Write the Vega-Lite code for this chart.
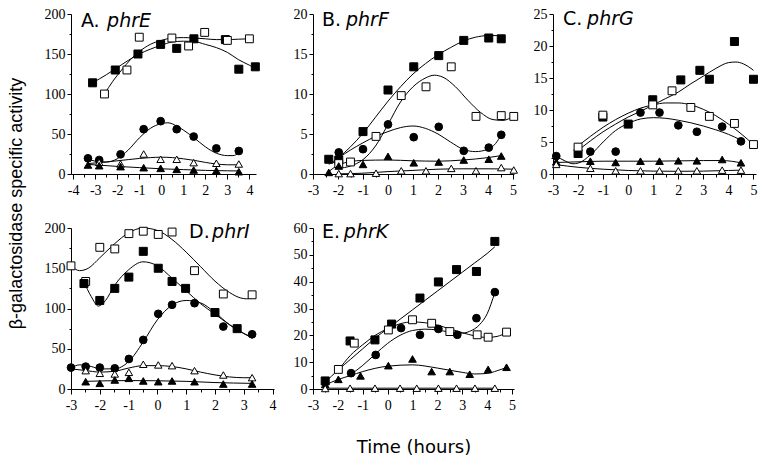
{
"$schema": "https://vega.github.io/schema/vega-lite/v6.json",
"padding": {"left": 6, "top": 7, "right": 2, "bottom": 2},
"config": {
 "view": {"stroke": null},
 "style": {"guide-label": {"font": "Liberation Serif", "fontSize": 14, "fill": "black"}},
 "axis": {"domainColor": "black", "tickColor": "black", "labelColor": "black", "labelFont": "Liberation Serif", "labelFontSize": 14, "labelPadding": 2, "grid": false, "labelFlush": false, "labelOverlap": false, "domainWidth": 1, "tickWidth": 1},
 "axisX": {"labelPadding": 4}
},
"datasets": {
 "pts": [
  {"p":"A","s":"sf","t":-3.12,"v":114},{"p":"A","s":"sf","t":-2.09,"v":130},{"p":"A","s":"sf","t":-1.06,"v":150},{"p":"A","s":"sf","t":-0.03,"v":162},{"p":"A","s":"sf","t":0.7,"v":157},{"p":"A","s":"sf","t":1.48,"v":169},{"p":"A","s":"sf","t":2.91,"v":168},{"p":"A","s":"sf","t":3.52,"v":131},{"p":"A","s":"sf","t":4.27,"v":134},
  {"p":"A","s":"so","t":-2.58,"v":100},{"p":"A","s":"so","t":-1.56,"v":130},{"p":"A","s":"so","t":-1.0,"v":171},{"p":"A","s":"so","t":0.48,"v":170},{"p":"A","s":"so","t":1.24,"v":160},{"p":"A","s":"so","t":1.97,"v":177},{"p":"A","s":"so","t":3.0,"v":167},{"p":"A","s":"so","t":4.0,"v":169},
  {"p":"A","s":"cf","t":-3.33,"v":19.6},{"p":"A","s":"cf","t":-2.82,"v":17.5},{"p":"A","s":"cf","t":-1.85,"v":24.6},{"p":"A","s":"cf","t":-0.8,"v":56},{"p":"A","s":"cf","t":-0.03,"v":66},{"p":"A","s":"cf","t":0.7,"v":56},{"p":"A","s":"cf","t":1.47,"v":46.8},{"p":"A","s":"cf","t":2.5,"v":32},{"p":"A","s":"cf","t":3.52,"v":28.8},
  {"p":"A","s":"to","t":-2.82,"v":14.6},{"p":"A","s":"to","t":-1.85,"v":12.5},{"p":"A","s":"to","t":-0.8,"v":25},{"p":"A","s":"to","t":-0.03,"v":18.4},{"p":"A","s":"to","t":0.7,"v":18.4},{"p":"A","s":"to","t":1.47,"v":14.2},{"p":"A","s":"to","t":2.5,"v":13.4},{"p":"A","s":"to","t":3.52,"v":12.5},
  {"p":"A","s":"tf","t":-3.33,"v":11.3},{"p":"A","s":"tf","t":-2.82,"v":10.4},{"p":"A","s":"tf","t":-1.85,"v":9.2},{"p":"A","s":"tf","t":-0.8,"v":7.9},{"p":"A","s":"tf","t":-0.03,"v":7.1},{"p":"A","s":"tf","t":0.7,"v":5.8},{"p":"A","s":"tf","t":1.47,"v":5},{"p":"A","s":"tf","t":2.5,"v":4.2},{"p":"A","s":"tf","t":3.52,"v":2.9},

  {"p":"B","s":"sf","t":-2.37,"v":1.84},{"p":"B","s":"sf","t":-1.97,"v":1.75},{"p":"B","s":"sf","t":-1.0,"v":5.3},{"p":"B","s":"sf","t":0,"v":10.5},{"p":"B","s":"sf","t":1.03,"v":13.4},{"p":"B","s":"sf","t":2.03,"v":14.8},{"p":"B","s":"sf","t":3.03,"v":16.7},{"p":"B","s":"sf","t":4.03,"v":17.0},{"p":"B","s":"sf","t":4.53,"v":16.9},
  {"p":"B","s":"so","t":-1.97,"v":1.3},{"p":"B","s":"so","t":-1.5,"v":1.5},{"p":"B","s":"so","t":-0.48,"v":4.7},{"p":"B","s":"so","t":0.53,"v":9.8},{"p":"B","s":"so","t":1.52,"v":10.9},{"p":"B","s":"so","t":2.53,"v":13.4},{"p":"B","s":"so","t":3.52,"v":7.2},{"p":"B","s":"so","t":4.53,"v":7.3},{"p":"B","s":"so","t":5.03,"v":7.2},
  {"p":"B","s":"cf","t":-1.97,"v":2.7},{"p":"B","s":"cf","t":-1.0,"v":3.1},{"p":"B","s":"cf","t":0,"v":6.2},{"p":"B","s":"cf","t":1.03,"v":4.6},{"p":"B","s":"cf","t":2.03,"v":5.9},{"p":"B","s":"cf","t":3.03,"v":2.9},{"p":"B","s":"cf","t":4.03,"v":3.3},{"p":"B","s":"cf","t":4.53,"v":4.9},
  {"p":"B","s":"tf","t":-2.37,"v":0.2},{"p":"B","s":"tf","t":-1.97,"v":1.0},{"p":"B","s":"tf","t":-1.0,"v":1.2},{"p":"B","s":"tf","t":0,"v":2.2},{"p":"B","s":"tf","t":1.03,"v":1.4},{"p":"B","s":"tf","t":2.03,"v":1.5},{"p":"B","s":"tf","t":3.03,"v":1.75},{"p":"B","s":"tf","t":4.03,"v":1.85},{"p":"B","s":"tf","t":4.53,"v":2.25},
  {"p":"B","s":"to","t":-1.97,"v":0.05},{"p":"B","s":"to","t":-1.5,"v":0.05},{"p":"B","s":"to","t":-0.48,"v":0.1},{"p":"B","s":"to","t":0.53,"v":0.4},{"p":"B","s":"to","t":1.52,"v":0.4},{"p":"B","s":"to","t":2.53,"v":0.7},{"p":"B","s":"to","t":3.52,"v":0.4},{"p":"B","s":"to","t":4.53,"v":0.8},{"p":"B","s":"to","t":5.03,"v":0.5},

  {"p":"C","s":"sf","t":-2.0,"v":3.2},{"p":"C","s":"sf","t":-1.01,"v":8.9},{"p":"C","s":"sf","t":0,"v":7.8},{"p":"C","s":"sf","t":0.98,"v":11.6},{"p":"C","s":"sf","t":2.1,"v":14.7},{"p":"C","s":"sf","t":2.86,"v":16.2},{"p":"C","s":"sf","t":3.24,"v":14.8},{"p":"C","s":"sf","t":4.24,"v":20.7},{"p":"C","s":"sf","t":5.0,"v":14.8},
  {"p":"C","s":"so","t":-2.0,"v":4.2},{"p":"C","s":"so","t":-1.01,"v":9.2},{"p":"C","s":"so","t":0.98,"v":10.8},{"p":"C","s":"so","t":1.75,"v":13.0},{"p":"C","s":"so","t":2.5,"v":10.4},{"p":"C","s":"so","t":3.24,"v":9.0},{"p":"C","s":"so","t":4.24,"v":7.9},{"p":"C","s":"so","t":5.0,"v":4.6},
  {"p":"C","s":"cf","t":-2.87,"v":2.8},{"p":"C","s":"cf","t":-1.51,"v":3.5},{"p":"C","s":"cf","t":-0.5,"v":3.5},{"p":"C","s":"cf","t":0.49,"v":9.6},{"p":"C","s":"cf","t":1.25,"v":9.6},{"p":"C","s":"cf","t":2.0,"v":7.6},{"p":"C","s":"cf","t":2.74,"v":6.6},{"p":"C","s":"cf","t":3.75,"v":7.4},{"p":"C","s":"cf","t":4.5,"v":5.1},
  {"p":"C","s":"tf","t":-2.87,"v":1.9},{"p":"C","s":"tf","t":-1.51,"v":2.0},{"p":"C","s":"tf","t":-0.5,"v":1.8},{"p":"C","s":"tf","t":0.49,"v":2.0},{"p":"C","s":"tf","t":1.25,"v":2.0},{"p":"C","s":"tf","t":2.0,"v":2.06},{"p":"C","s":"tf","t":2.74,"v":2.06},{"p":"C","s":"tf","t":3.75,"v":2.27},{"p":"C","s":"tf","t":4.5,"v":1.75},
  {"p":"C","s":"to","t":-2.87,"v":1.5},{"p":"C","s":"to","t":-1.51,"v":0.9},{"p":"C","s":"to","t":-0.5,"v":0.5},{"p":"C","s":"to","t":0.49,"v":0.5},{"p":"C","s":"to","t":1.25,"v":0.5},{"p":"C","s":"to","t":2.0,"v":0.5},{"p":"C","s":"to","t":2.74,"v":0.5},{"p":"C","s":"to","t":3.75,"v":0.6},{"p":"C","s":"to","t":4.5,"v":0.6},

  {"p":"D","s":"so","t":-3.0,"v":153},{"p":"D","s":"so","t":-2.49,"v":133.6},{"p":"D","s":"so","t":-2.0,"v":176},{"p":"D","s":"so","t":-1.48,"v":174},{"p":"D","s":"so","t":-0.99,"v":193},{"p":"D","s":"so","t":-0.49,"v":196},{"p":"D","s":"so","t":0.03,"v":192},{"p":"D","s":"so","t":0.51,"v":195},{"p":"D","s":"so","t":1.29,"v":147},{"p":"D","s":"so","t":2.29,"v":118},{"p":"D","s":"so","t":3.29,"v":117},
  {"p":"D","s":"sf","t":-2.55,"v":131},{"p":"D","s":"sf","t":-2.0,"v":110},{"p":"D","s":"sf","t":-1.48,"v":125},{"p":"D","s":"sf","t":-0.99,"v":139},{"p":"D","s":"sf","t":-0.49,"v":171},{"p":"D","s":"sf","t":0.03,"v":150},{"p":"D","s":"sf","t":0.51,"v":133.6},{"p":"D","s":"sf","t":0.98,"v":125},{"p":"D","s":"sf","t":2.0,"v":95},{"p":"D","s":"sf","t":2.77,"v":75},
  {"p":"D","s":"cf","t":-3.0,"v":26.6},{"p":"D","s":"cf","t":-2.49,"v":27.8},{"p":"D","s":"cf","t":-2.0,"v":26.6},{"p":"D","s":"cf","t":-1.48,"v":25.7},{"p":"D","s":"cf","t":-0.99,"v":37.3},{"p":"D","s":"cf","t":-0.49,"v":61},{"p":"D","s":"cf","t":0.03,"v":93.4},{"p":"D","s":"cf","t":0.51,"v":104.6},{"p":"D","s":"cf","t":1.29,"v":106.6},{"p":"D","s":"cf","t":2.29,"v":77.6},{"p":"D","s":"cf","t":3.29,"v":68},
  {"p":"D","s":"to","t":-2.49,"v":22.8},{"p":"D","s":"to","t":-2.0,"v":19.5},{"p":"D","s":"to","t":-1.48,"v":18.7},{"p":"D","s":"to","t":-0.99,"v":20.7},{"p":"D","s":"to","t":-0.49,"v":30.7},{"p":"D","s":"to","t":0.03,"v":29.9},{"p":"D","s":"to","t":0.51,"v":29},{"p":"D","s":"to","t":1.29,"v":22.8},{"p":"D","s":"to","t":2.29,"v":17.4},{"p":"D","s":"to","t":3.29,"v":14.1},
  {"p":"D","s":"tf","t":-2.49,"v":9.1},{"p":"D","s":"tf","t":-2.0,"v":7.1},{"p":"D","s":"tf","t":-1.48,"v":11.2},{"p":"D","s":"tf","t":-0.99,"v":13.3},{"p":"D","s":"tf","t":-0.49,"v":10},{"p":"D","s":"tf","t":0.03,"v":9.1},{"p":"D","s":"tf","t":0.51,"v":10},{"p":"D","s":"tf","t":1.29,"v":9.1},{"p":"D","s":"tf","t":2.29,"v":6.2},{"p":"D","s":"tf","t":3.29,"v":6.2},

  {"p":"E","s":"sf","t":-2.51,"v":3.0},{"p":"E","s":"sf","t":-1.51,"v":17.9},{"p":"E","s":"sf","t":-0.51,"v":18.3},{"p":"E","s":"sf","t":0.16,"v":24.2},{"p":"E","s":"sf","t":1.3,"v":33.9},{"p":"E","s":"sf","t":2.04,"v":39.9},{"p":"E","s":"sf","t":2.77,"v":44.5},{"p":"E","s":"sf","t":3.57,"v":43.8},{"p":"E","s":"sf","t":4.31,"v":55},
  {"p":"E","s":"so","t":-1.98,"v":7.3},{"p":"E","s":"so","t":-1.34,"v":17.1},{"p":"E","s":"so","t":0.03,"v":22},{"p":"E","s":"so","t":1.0,"v":25.8},{"p":"E","s":"so","t":1.77,"v":24.5},{"p":"E","s":"so","t":2.5,"v":21.4},{"p":"E","s":"so","t":3.6,"v":20.2},{"p":"E","s":"so","t":4.04,"v":19.3},{"p":"E","s":"so","t":4.78,"v":21.2},
  {"p":"E","s":"cf","t":-1.47,"v":5.9},{"p":"E","s":"cf","t":-0.48,"v":12.7},{"p":"E","s":"cf","t":0.54,"v":22.7},{"p":"E","s":"cf","t":1.3,"v":20.2},{"p":"E","s":"cf","t":2.04,"v":22.4},{"p":"E","s":"cf","t":2.8,"v":20.2},{"p":"E","s":"cf","t":3.57,"v":26.4},{"p":"E","s":"cf","t":4.31,"v":36.1},
  {"p":"E","s":"tf","t":-2.51,"v":1.7},{"p":"E","s":"tf","t":-1.98,"v":3.6},{"p":"E","s":"tf","t":-1.09,"v":4.9},{"p":"E","s":"tf","t":0.03,"v":8.7},{"p":"E","s":"tf","t":1.0,"v":11.2},{"p":"E","s":"tf","t":1.77,"v":6.5},{"p":"E","s":"tf","t":2.5,"v":6.5},{"p":"E","s":"tf","t":3.3,"v":5.5},{"p":"E","s":"tf","t":4.04,"v":7.3},{"p":"E","s":"tf","t":4.78,"v":8.1},
  {"p":"E","s":"to","t":-2.51,"v":0.2},{"p":"E","s":"to","t":-1.51,"v":0.3},{"p":"E","s":"to","t":-0.51,"v":0.3},{"p":"E","s":"to","t":0.5,"v":0.3},{"p":"E","s":"to","t":1.17,"v":0.3},{"p":"E","s":"to","t":2.04,"v":0.3},{"p":"E","s":"to","t":2.77,"v":0.3},{"p":"E","s":"to","t":3.51,"v":0.3},{"p":"E","s":"to","t":4.31,"v":0.3}
 ],
 "fit": [
  {"p":"A","s":"sf","t":-3.12,"v":114},{"p":"A","s":"sf","t":-2.5,"v":124},{"p":"A","s":"sf","t":-2,"v":133},{"p":"A","s":"sf","t":-1.5,"v":142},{"p":"A","s":"sf","t":-1,"v":150},{"p":"A","s":"sf","t":-0.5,"v":156},{"p":"A","s":"sf","t":0,"v":161},{"p":"A","s":"sf","t":0.5,"v":165},{"p":"A","s":"sf","t":1,"v":166},{"p":"A","s":"sf","t":1.5,"v":165.5},{"p":"A","s":"sf","t":2,"v":162},{"p":"A","s":"sf","t":2.5,"v":158},{"p":"A","s":"sf","t":3,"v":152},{"p":"A","s":"sf","t":3.5,"v":143},{"p":"A","s":"sf","t":4,"v":136},{"p":"A","s":"sf","t":4.27,"v":132},
  {"p":"A","s":"so","t":-2.58,"v":100},{"p":"A","s":"so","t":-2.2,"v":116},{"p":"A","s":"so","t":-1.8,"v":130},{"p":"A","s":"so","t":-1.4,"v":143},{"p":"A","s":"so","t":-1,"v":153},{"p":"A","s":"so","t":-0.5,"v":162},{"p":"A","s":"so","t":0,"v":167},{"p":"A","s":"so","t":0.5,"v":170},{"p":"A","s":"so","t":1,"v":170.5},{"p":"A","s":"so","t":1.5,"v":170},{"p":"A","s":"so","t":2,"v":169},{"p":"A","s":"so","t":2.5,"v":168},{"p":"A","s":"so","t":3,"v":168},{"p":"A","s":"so","t":3.5,"v":168.5},{"p":"A","s":"so","t":4,"v":169},
  {"p":"A","s":"cf","t":-3.33,"v":19},{"p":"A","s":"cf","t":-3,"v":16},{"p":"A","s":"cf","t":-2.5,"v":15},{"p":"A","s":"cf","t":-2,"v":19},{"p":"A","s":"cf","t":-1.5,"v":30},{"p":"A","s":"cf","t":-1,"v":45},{"p":"A","s":"cf","t":-0.5,"v":57},{"p":"A","s":"cf","t":0,"v":63},{"p":"A","s":"cf","t":0.3,"v":64},{"p":"A","s":"cf","t":0.7,"v":60},{"p":"A","s":"cf","t":1,"v":55},{"p":"A","s":"cf","t":1.5,"v":45},{"p":"A","s":"cf","t":2,"v":34},{"p":"A","s":"cf","t":2.5,"v":26},{"p":"A","s":"cf","t":3,"v":23},{"p":"A","s":"cf","t":3.25,"v":23},{"p":"A","s":"cf","t":3.52,"v":26},
  {"p":"A","s":"to","t":-3.33,"v":13},{"p":"A","s":"to","t":-2.5,"v":15},{"p":"A","s":"to","t":-1.5,"v":18},{"p":"A","s":"to","t":-0.5,"v":20.5},{"p":"A","s":"to","t":0,"v":21},{"p":"A","s":"to","t":0.5,"v":20.5},{"p":"A","s":"to","t":1,"v":19},{"p":"A","s":"to","t":1.5,"v":17},{"p":"A","s":"to","t":2,"v":14.5},{"p":"A","s":"to","t":2.5,"v":12.5},{"p":"A","s":"to","t":3,"v":11.5},{"p":"A","s":"to","t":3.52,"v":11.5},
  {"p":"A","s":"tf","t":-3.33,"v":12},{"p":"A","s":"tf","t":-2,"v":9.5},{"p":"A","s":"tf","t":-1,"v":8},{"p":"A","s":"tf","t":0,"v":6.5},{"p":"A","s":"tf","t":1,"v":5.5},{"p":"A","s":"tf","t":2,"v":4.5},{"p":"A","s":"tf","t":3,"v":4},{"p":"A","s":"tf","t":3.52,"v":3.8},

  {"p":"B","s":"sf","t":-2.37,"v":1.2},{"p":"B","s":"sf","t":-2,"v":2.0},{"p":"B","s":"sf","t":-1.5,"v":3.4},{"p":"B","s":"sf","t":-1,"v":5.1},{"p":"B","s":"sf","t":-0.5,"v":7.1},{"p":"B","s":"sf","t":0,"v":9.1},{"p":"B","s":"sf","t":0.5,"v":10.9},{"p":"B","s":"sf","t":1,"v":12.5},{"p":"B","s":"sf","t":1.5,"v":13.8},{"p":"B","s":"sf","t":2,"v":14.9},{"p":"B","s":"sf","t":2.5,"v":15.8},{"p":"B","s":"sf","t":3,"v":16.6},{"p":"B","s":"sf","t":3.5,"v":17.1},{"p":"B","s":"sf","t":4,"v":17.3},{"p":"B","s":"sf","t":4.53,"v":17.3},
  {"p":"B","s":"so","t":-1.97,"v":0.7},{"p":"B","s":"so","t":-1.5,"v":1.0},{"p":"B","s":"so","t":-1,"v":1.8},{"p":"B","s":"so","t":-0.5,"v":3.5},{"p":"B","s":"so","t":0,"v":6.2},{"p":"B","s":"so","t":0.5,"v":9.0},{"p":"B","s":"so","t":1,"v":10.9},{"p":"B","s":"so","t":1.5,"v":12.0},{"p":"B","s":"so","t":1.85,"v":12.35},{"p":"B","s":"so","t":2.2,"v":12.1},{"p":"B","s":"so","t":2.7,"v":10.9},{"p":"B","s":"so","t":3.2,"v":9.2},{"p":"B","s":"so","t":3.7,"v":7.7},{"p":"B","s":"so","t":4.2,"v":6.8},{"p":"B","s":"so","t":4.6,"v":6.7},{"p":"B","s":"so","t":5.03,"v":7.3},
  {"p":"B","s":"cf","t":-2.2,"v":1.4},{"p":"B","s":"cf","t":-1.97,"v":2.0},{"p":"B","s":"cf","t":-1.5,"v":3.0},{"p":"B","s":"cf","t":-1,"v":3.9},{"p":"B","s":"cf","t":-0.5,"v":4.7},{"p":"B","s":"cf","t":0,"v":5.3},{"p":"B","s":"cf","t":0.5,"v":5.8},{"p":"B","s":"cf","t":1,"v":6.0},{"p":"B","s":"cf","t":1.5,"v":5.7},{"p":"B","s":"cf","t":2,"v":5.0},{"p":"B","s":"cf","t":2.5,"v":4.0},{"p":"B","s":"cf","t":3,"v":3.1},{"p":"B","s":"cf","t":3.5,"v":2.8},{"p":"B","s":"cf","t":4,"v":3.1},{"p":"B","s":"cf","t":4.3,"v":3.8},{"p":"B","s":"cf","t":4.53,"v":4.9},
  {"p":"B","s":"tf","t":-2.37,"v":0.3},{"p":"B","s":"tf","t":-2,"v":1.1},{"p":"B","s":"tf","t":-1.5,"v":1.55},{"p":"B","s":"tf","t":-1,"v":1.7},{"p":"B","s":"tf","t":0,"v":1.75},{"p":"B","s":"tf","t":1,"v":1.65},{"p":"B","s":"tf","t":2,"v":1.6},{"p":"B","s":"tf","t":3,"v":1.75},{"p":"B","s":"tf","t":4,"v":2.05},{"p":"B","s":"tf","t":4.53,"v":2.3},
  {"p":"B","s":"to","t":-1.97,"v":0.02},{"p":"B","s":"to","t":-1,"v":0.1},{"p":"B","s":"to","t":0,"v":0.3},{"p":"B","s":"to","t":1,"v":0.45},{"p":"B","s":"to","t":2,"v":0.6},{"p":"B","s":"to","t":3,"v":0.65},{"p":"B","s":"to","t":4,"v":0.65},{"p":"B","s":"to","t":5.03,"v":0.6},

  {"p":"C","s":"sf","t":-2,"v":3.7},{"p":"C","s":"sf","t":-1.5,"v":5.2},{"p":"C","s":"sf","t":-1,"v":6.6},{"p":"C","s":"sf","t":-0.5,"v":7.8},{"p":"C","s":"sf","t":0,"v":8.9},{"p":"C","s":"sf","t":0.5,"v":9.8},{"p":"C","s":"sf","t":1,"v":10.8},{"p":"C","s":"sf","t":1.5,"v":11.8},{"p":"C","s":"sf","t":2,"v":12.8},{"p":"C","s":"sf","t":2.5,"v":14.1},{"p":"C","s":"sf","t":3,"v":15.3},{"p":"C","s":"sf","t":3.5,"v":16.5},{"p":"C","s":"sf","t":4,"v":17.4},{"p":"C","s":"sf","t":4.3,"v":17.5},{"p":"C","s":"sf","t":4.6,"v":17.2},{"p":"C","s":"sf","t":5,"v":16.2},
  {"p":"C","s":"so","t":-2,"v":4.4},{"p":"C","s":"so","t":-1.5,"v":5.9},{"p":"C","s":"so","t":-1,"v":7.3},{"p":"C","s":"so","t":-0.5,"v":8.5},{"p":"C","s":"so","t":0,"v":9.5},{"p":"C","s":"so","t":0.5,"v":10.3},{"p":"C","s":"so","t":1,"v":10.8},{"p":"C","s":"so","t":1.5,"v":11.1},{"p":"C","s":"so","t":2,"v":11.1},{"p":"C","s":"so","t":2.5,"v":10.8},{"p":"C","s":"so","t":3,"v":10.1},{"p":"C","s":"so","t":3.5,"v":9.1},{"p":"C","s":"so","t":4,"v":7.8},{"p":"C","s":"so","t":4.5,"v":6.3},{"p":"C","s":"so","t":5,"v":4.6},
  {"p":"C","s":"cf","t":-2.87,"v":2.8},{"p":"C","s":"cf","t":-2.5,"v":2.0},{"p":"C","s":"cf","t":-2.2,"v":1.6},{"p":"C","s":"cf","t":-2,"v":1.7},{"p":"C","s":"cf","t":-1.5,"v":3.0},{"p":"C","s":"cf","t":-1,"v":5.0},{"p":"C","s":"cf","t":-0.5,"v":6.8},{"p":"C","s":"cf","t":0,"v":7.9},{"p":"C","s":"cf","t":0.5,"v":8.6},{"p":"C","s":"cf","t":1,"v":8.8},{"p":"C","s":"cf","t":1.5,"v":8.7},{"p":"C","s":"cf","t":2,"v":8.4},{"p":"C","s":"cf","t":2.5,"v":8.0},{"p":"C","s":"cf","t":3,"v":7.5},{"p":"C","s":"cf","t":3.5,"v":6.9},{"p":"C","s":"cf","t":4,"v":6.2},{"p":"C","s":"cf","t":4.5,"v":5.3},
  {"p":"C","s":"tf","t":-2.87,"v":1.8},{"p":"C","s":"tf","t":-2,"v":1.9},{"p":"C","s":"tf","t":-1,"v":2.0},{"p":"C","s":"tf","t":0,"v":2.0},{"p":"C","s":"tf","t":1,"v":2.0},{"p":"C","s":"tf","t":2,"v":2.05},{"p":"C","s":"tf","t":3,"v":2.1},{"p":"C","s":"tf","t":3.75,"v":2.1},{"p":"C","s":"tf","t":4.5,"v":1.75},
  {"p":"C","s":"to","t":-2.87,"v":1.45},{"p":"C","s":"to","t":-2,"v":1.05},{"p":"C","s":"to","t":-1,"v":0.75},{"p":"C","s":"to","t":0,"v":0.55},{"p":"C","s":"to","t":1,"v":0.45},{"p":"C","s":"to","t":2,"v":0.42},{"p":"C","s":"to","t":3,"v":0.45},{"p":"C","s":"to","t":4,"v":0.55},{"p":"C","s":"to","t":4.5,"v":0.6},

  {"p":"D","s":"so","t":-3,"v":153},{"p":"D","s":"so","t":-2.7,"v":147},{"p":"D","s":"so","t":-2.4,"v":150},{"p":"D","s":"so","t":-2,"v":163},{"p":"D","s":"so","t":-1.5,"v":180},{"p":"D","s":"so","t":-1,"v":194},{"p":"D","s":"so","t":-0.5,"v":200},{"p":"D","s":"so","t":0,"v":197},{"p":"D","s":"so","t":0.5,"v":186},{"p":"D","s":"so","t":1,"v":170},{"p":"D","s":"so","t":1.5,"v":152},{"p":"D","s":"so","t":2,"v":134},{"p":"D","s":"so","t":2.5,"v":120},{"p":"D","s":"so","t":2.9,"v":113},{"p":"D","s":"so","t":3.1,"v":112},{"p":"D","s":"so","t":3.3,"v":114},
  {"p":"D","s":"sf","t":-2.55,"v":133},{"p":"D","s":"sf","t":-2.3,"v":115},{"p":"D","s":"sf","t":-2.05,"v":103},{"p":"D","s":"sf","t":-1.8,"v":110},{"p":"D","s":"sf","t":-1.5,"v":128},{"p":"D","s":"sf","t":-1,"v":148},{"p":"D","s":"sf","t":-0.5,"v":158},{"p":"D","s":"sf","t":0,"v":153},{"p":"D","s":"sf","t":0.5,"v":138},{"p":"D","s":"sf","t":1,"v":122},{"p":"D","s":"sf","t":1.5,"v":106},{"p":"D","s":"sf","t":2,"v":93},{"p":"D","s":"sf","t":2.5,"v":80},{"p":"D","s":"sf","t":3,"v":69},{"p":"D","s":"sf","t":3.3,"v":64},
  {"p":"D","s":"cf","t":-3,"v":26},{"p":"D","s":"cf","t":-2.7,"v":30},{"p":"D","s":"cf","t":-2.3,"v":28},{"p":"D","s":"cf","t":-2,"v":25},{"p":"D","s":"cf","t":-1.5,"v":25},{"p":"D","s":"cf","t":-1,"v":34},{"p":"D","s":"cf","t":-0.5,"v":58},{"p":"D","s":"cf","t":0,"v":86},{"p":"D","s":"cf","t":0.5,"v":104},{"p":"D","s":"cf","t":1,"v":110},{"p":"D","s":"cf","t":1.5,"v":107},{"p":"D","s":"cf","t":2,"v":95},{"p":"D","s":"cf","t":2.5,"v":80},{"p":"D","s":"cf","t":3,"v":69},{"p":"D","s":"cf","t":3.3,"v":63},
  {"p":"D","s":"to","t":-3,"v":25},{"p":"D","s":"to","t":-2.5,"v":23},{"p":"D","s":"to","t":-2,"v":21},{"p":"D","s":"to","t":-1.5,"v":22},{"p":"D","s":"to","t":-1,"v":26},{"p":"D","s":"to","t":-0.5,"v":29},{"p":"D","s":"to","t":0,"v":29},{"p":"D","s":"to","t":0.5,"v":28},{"p":"D","s":"to","t":1,"v":25},{"p":"D","s":"to","t":1.5,"v":21},{"p":"D","s":"to","t":2,"v":17.5},{"p":"D","s":"to","t":2.5,"v":15},{"p":"D","s":"to","t":3,"v":14},{"p":"D","s":"to","t":3.3,"v":14},
  {"p":"D","s":"tf","t":-2.49,"v":9.5},{"p":"D","s":"tf","t":-1,"v":10.5},{"p":"D","s":"tf","t":0,"v":10.2},{"p":"D","s":"tf","t":1,"v":9.5},{"p":"D","s":"tf","t":2,"v":8},{"p":"D","s":"tf","t":3.29,"v":7},

  {"p":"E","s":"sf","t":-2.51,"v":2.5},{"p":"E","s":"sf","t":-2,"v":7},{"p":"E","s":"sf","t":-1.5,"v":11},{"p":"E","s":"sf","t":-1,"v":15},{"p":"E","s":"sf","t":-0.5,"v":19},{"p":"E","s":"sf","t":0,"v":22.5},{"p":"E","s":"sf","t":0.5,"v":26},{"p":"E","s":"sf","t":1,"v":29.5},{"p":"E","s":"sf","t":1.5,"v":33},{"p":"E","s":"sf","t":2,"v":36.5},{"p":"E","s":"sf","t":2.5,"v":40},{"p":"E","s":"sf","t":3,"v":43.5},{"p":"E","s":"sf","t":3.5,"v":47},{"p":"E","s":"sf","t":4,"v":50.5},{"p":"E","s":"sf","t":4.31,"v":53},
  {"p":"E","s":"so","t":-1.98,"v":7},{"p":"E","s":"so","t":-1.5,"v":12.5},{"p":"E","s":"so","t":-1,"v":16.5},{"p":"E","s":"so","t":-0.5,"v":20},{"p":"E","s":"so","t":0,"v":22.5},{"p":"E","s":"so","t":0.5,"v":24.3},{"p":"E","s":"so","t":1,"v":25},{"p":"E","s":"so","t":1.5,"v":24.7},{"p":"E","s":"so","t":2,"v":23.8},{"p":"E","s":"so","t":2.5,"v":22.4},{"p":"E","s":"so","t":3,"v":21},{"p":"E","s":"so","t":3.5,"v":19.8},{"p":"E","s":"so","t":4,"v":19.2},{"p":"E","s":"so","t":4.4,"v":19.6},{"p":"E","s":"so","t":4.78,"v":21},
  {"p":"E","s":"cf","t":-1.47,"v":5.5},{"p":"E","s":"cf","t":-1,"v":8.8},{"p":"E","s":"cf","t":-0.5,"v":13},{"p":"E","s":"cf","t":0,"v":17},{"p":"E","s":"cf","t":0.5,"v":20},{"p":"E","s":"cf","t":1,"v":21.8},{"p":"E","s":"cf","t":1.5,"v":22.3},{"p":"E","s":"cf","t":2,"v":22},{"p":"E","s":"cf","t":2.5,"v":21.2},{"p":"E","s":"cf","t":3,"v":20.8},{"p":"E","s":"cf","t":3.3,"v":21.5},{"p":"E","s":"cf","t":3.7,"v":24},{"p":"E","s":"cf","t":4,"v":28},{"p":"E","s":"cf","t":4.31,"v":36},
  {"p":"E","s":"tf","t":-2.51,"v":1.5},{"p":"E","s":"tf","t":-2,"v":3.5},{"p":"E","s":"tf","t":-1.5,"v":5},{"p":"E","s":"tf","t":-1,"v":6.5},{"p":"E","s":"tf","t":0,"v":8.5},{"p":"E","s":"tf","t":1,"v":9},{"p":"E","s":"tf","t":2,"v":7.8},{"p":"E","s":"tf","t":3,"v":6.2},{"p":"E","s":"tf","t":3.5,"v":5.6},{"p":"E","s":"tf","t":4,"v":5.8},{"p":"E","s":"tf","t":4.4,"v":6.8},{"p":"E","s":"tf","t":4.78,"v":8},
  {"p":"E","s":"to","t":-2.51,"v":0.3},{"p":"E","s":"to","t":4.31,"v":0.3}
 ],
 "lab": [
  {"p":"A","t":-3.65,"v":183.8,"txt":"A.","it":0},{"p":"A","t":-2.46,"v":183.8,"txt":"phrE","it":1},
  {"p":"B","t":-2.64,"v":18.5,"txt":"B.","it":0},{"p":"B","t":-1.68,"v":18.5,"txt":"phrF","it":1},
  {"p":"C","t":-2.6,"v":23.3,"txt":"C.","it":0},{"p":"C","t":-1.64,"v":23.3,"txt":"phrG","it":1},
  {"p":"D","t":1.1,"v":187.6,"txt":"D.","it":0},{"p":"D","t":1.9,"v":187.6,"txt":"phrI","it":1},
  {"p":"E","t":-2.64,"v":56.3,"txt":"E.","it":0},{"p":"E","t":-1.76,"v":56.3,"txt":"phrK","it":1}
 ]
},
"concat": [
 {
  "width": 185, "height": 160,
  "encoding": {
   "x": {"field": "t", "type": "quantitative", "scale": {"domain": [-4.1, 4.3], "nice": false, "zero": false}, "axis": {"title": null, "labelFont": "Liberation Serif", "labelFontSize": 14, "values": [-4,-3.5,-3,-2.5,-2,-1.5,-1,-0.5,0,0.5,1,1.5,2,2.5,3,3.5,4], "labelExpr": "datum.value % 1 === 0 ? '' + datum.value : ''", "tickSize": {"condition": {"test": "datum.value % 1 !== 0", "value": 3}, "value": 5}}},
   "y": {"field": "v", "type": "quantitative", "scale": {"domain": [0, 200], "nice": false}, "axis": {"title": null, "labelFont": "Liberation Serif", "labelFontSize": 14, "values": [0,25,50,75,100,125,150,175,200], "labelExpr": "datum.value % 50 === 0 ? '' + datum.value : ''", "tickSize": {"condition": {"test": "datum.value % 50 !== 0", "value": 2}, "value": 4}}}
  },
  "layer": [
   {"data": {"name": "fit"}, "transform": [{"filter": "datum.p == 'A'"}], "mark": {"type": "line", "color": "black", "strokeWidth": 1, "interpolate": "monotone"}, "encoding": {"detail": {"field": "s"}}},
   {"data": {"name": "pts"}, "transform": [{"filter": "datum.p == 'A'"}], "mark": {"type": "point", "filled": true, "stroke": "black", "strokeWidth": 1, "opacity": 1},
    "encoding": {
     "shape": {"field": "s", "type": "nominal", "scale": {"domain": ["sf","so","cf","tf","to"], "range": ["square","square","circle","triangle-up","triangle-up"]}, "legend": null},
     "fill": {"field": "s", "type": "nominal", "scale": {"domain": ["sf","so","cf","tf","to"], "range": ["black","white","black","black","white"]}, "legend": null},
     "size": {"field": "s", "type": "ordinal", "scale": {"domain": ["sf","so","cf","tf","to"], "range": [64,56,64,60,60]}, "legend": null}}},
   {"data": {"name": "lab"}, "transform": [{"filter": "datum.p == 'A' && datum.it == 0"}], "mark": {"type": "text", "align": "left", "baseline": "alphabetic", "font": "DejaVu Sans", "fontSize": 19, "color": "black"}, "encoding": {"text": {"field": "txt"}}},
   {"data": {"name": "lab"}, "transform": [{"filter": "datum.p == 'A' && datum.it == 1"}], "mark": {"type": "text", "align": "left", "baseline": "alphabetic", "font": "DejaVu Sans", "fontSize": 19, "fontStyle": "italic", "color": "black"}, "encoding": {"text": {"field": "txt"}}}
  ]
 },
 {
  "width": 201, "height": 160,
  "encoding": {
   "x": {"field": "t", "type": "quantitative", "scale": {"domain": [-3, 5.04], "nice": false, "zero": false}, "axis": {"title": null, "labelFont": "Liberation Serif", "labelFontSize": 14, "values": [-3,-2.5,-2,-1.5,-1,-0.5,0,0.5,1,1.5,2,2.5,3,3.5,4,4.5,5], "labelExpr": "datum.value % 1 === 0 ? '' + datum.value : ''", "tickSize": {"condition": {"test": "datum.value % 1 !== 0", "value": 3}, "value": 5}}},
   "y": {"field": "v", "type": "quantitative", "scale": {"domain": [0, 20], "nice": false}, "axis": {"title": null, "labelFont": "Liberation Serif", "labelFontSize": 14, "values": [0,2.5,5,7.5,10,12.5,15,17.5,20], "labelExpr": "datum.value % 5 === 0 ? '' + datum.value : ''", "tickSize": {"condition": {"test": "datum.value % 5 !== 0", "value": 2}, "value": 4}}}
  },
  "layer": [
   {"data": {"name": "fit"}, "transform": [{"filter": "datum.p == 'B'"}], "mark": {"type": "line", "color": "black", "strokeWidth": 1, "interpolate": "monotone"}, "encoding": {"detail": {"field": "s"}}},
   {"data": {"name": "pts"}, "transform": [{"filter": "datum.p == 'B'"}], "mark": {"type": "point", "filled": true, "stroke": "black", "strokeWidth": 1, "opacity": 1},
    "encoding": {
     "shape": {"field": "s", "type": "nominal", "scale": {"domain": ["sf","so","cf","tf","to"], "range": ["square","square","circle","triangle-up","triangle-up"]}, "legend": null},
     "fill": {"field": "s", "type": "nominal", "scale": {"domain": ["sf","so","cf","tf","to"], "range": ["black","white","black","black","white"]}, "legend": null},
     "size": {"field": "s", "type": "ordinal", "scale": {"domain": ["sf","so","cf","tf","to"], "range": [64,56,64,60,60]}, "legend": null}}},
   {"data": {"name": "lab"}, "transform": [{"filter": "datum.p == 'B' && datum.it == 0"}], "mark": {"type": "text", "align": "left", "baseline": "alphabetic", "font": "DejaVu Sans", "fontSize": 19, "color": "black"}, "encoding": {"text": {"field": "txt"}}},
   {"data": {"name": "lab"}, "transform": [{"filter": "datum.p == 'B' && datum.it == 1"}], "mark": {"type": "text", "align": "left", "baseline": "alphabetic", "font": "DejaVu Sans", "fontSize": 19, "fontStyle": "italic", "color": "black"}, "encoding": {"text": {"field": "txt"}}}
  ]
 },
 {
  "width": 203, "height": 160,
  "encoding": {
   "x": {"field": "t", "type": "quantitative", "scale": {"domain": [-3, 5.1], "nice": false, "zero": false}, "axis": {"title": null, "labelFont": "Liberation Serif", "labelFontSize": 14, "values": [-3,-2.5,-2,-1.5,-1,-0.5,0,0.5,1,1.5,2,2.5,3,3.5,4,4.5,5], "labelExpr": "datum.value % 1 === 0 ? '' + datum.value : ''", "tickSize": {"condition": {"test": "datum.value % 1 !== 0", "value": 3}, "value": 5}}},
   "y": {"field": "v", "type": "quantitative", "scale": {"domain": [0, 25], "nice": false}, "axis": {"title": null, "labelFont": "Liberation Serif", "labelFontSize": 14, "values": [0,2.5,5,7.5,10,12.5,15,17.5,20,22.5,25], "labelExpr": "datum.value % 5 === 0 ? '' + datum.value : ''", "tickSize": {"condition": {"test": "datum.value % 5 !== 0", "value": 2}, "value": 4}}}
  },
  "layer": [
   {"data": {"name": "fit"}, "transform": [{"filter": "datum.p == 'C'"}], "mark": {"type": "line", "color": "black", "strokeWidth": 1, "interpolate": "monotone"}, "encoding": {"detail": {"field": "s"}}},
   {"data": {"name": "pts"}, "transform": [{"filter": "datum.p == 'C'"}], "mark": {"type": "point", "filled": true, "stroke": "black", "strokeWidth": 1, "opacity": 1},
    "encoding": {
     "shape": {"field": "s", "type": "nominal", "scale": {"domain": ["sf","so","cf","tf","to"], "range": ["square","square","circle","triangle-up","triangle-up"]}, "legend": null},
     "fill": {"field": "s", "type": "nominal", "scale": {"domain": ["sf","so","cf","tf","to"], "range": ["black","white","black","black","white"]}, "legend": null},
     "size": {"field": "s", "type": "ordinal", "scale": {"domain": ["sf","so","cf","tf","to"], "range": [64,56,64,60,60]}, "legend": null}}},
   {"data": {"name": "lab"}, "transform": [{"filter": "datum.p == 'C' && datum.it == 0"}], "mark": {"type": "text", "align": "left", "baseline": "alphabetic", "font": "DejaVu Sans", "fontSize": 19, "color": "black"}, "encoding": {"text": {"field": "txt"}}},
   {"data": {"name": "lab"}, "transform": [{"filter": "datum.p == 'C' && datum.it == 1"}], "mark": {"type": "text", "align": "left", "baseline": "alphabetic", "font": "DejaVu Sans", "fontSize": 19, "fontStyle": "italic", "color": "black"}, "encoding": {"text": {"field": "txt"}}}
  ]
 },
 {
  "width": 203, "height": 161,
  "encoding": {
   "x": {"field": "t", "type": "quantitative", "scale": {"domain": [-3, 4.05], "nice": false, "zero": false}, "axis": {"title": null, "labelFont": "Liberation Serif", "labelFontSize": 14, "values": [-3,-2.5,-2,-1.5,-1,-0.5,0,0.5,1,1.5,2,2.5,3,3.5,4], "labelExpr": "datum.value % 1 === 0 ? '' + datum.value : ''", "tickSize": {"condition": {"test": "datum.value % 1 !== 0", "value": 3}, "value": 5}}},
   "y": {"field": "v", "type": "quantitative", "scale": {"domain": [0, 200], "nice": false}, "axis": {"title": "β-galactosidase specific activity", "titleFont": "Liberation Sans", "titleFontSize": 18, "titleFontWeight": "normal", "titleColor": "black", "titleX": -50, "titleY": -25, "titleAngle": -90, "titleAlign": "center", "titleBaseline": "alphabetic", "labelFont": "Liberation Serif", "labelFontSize": 14, "values": [0,25,50,75,100,125,150,175,200], "labelExpr": "datum.value % 50 === 0 ? '' + datum.value : ''", "tickSize": {"condition": {"test": "datum.value % 50 !== 0", "value": 2}, "value": 4}}}
  },
  "layer": [
   {"data": {"name": "fit"}, "transform": [{"filter": "datum.p == 'D'"}], "mark": {"type": "line", "color": "black", "strokeWidth": 1, "interpolate": "monotone"}, "encoding": {"detail": {"field": "s"}}},
   {"data": {"name": "pts"}, "transform": [{"filter": "datum.p == 'D'"}], "mark": {"type": "point", "filled": true, "stroke": "black", "strokeWidth": 1, "opacity": 1},
    "encoding": {
     "shape": {"field": "s", "type": "nominal", "scale": {"domain": ["sf","so","cf","tf","to"], "range": ["square","square","circle","triangle-up","triangle-up"]}, "legend": null},
     "fill": {"field": "s", "type": "nominal", "scale": {"domain": ["sf","so","cf","tf","to"], "range": ["black","white","black","black","white"]}, "legend": null},
     "size": {"field": "s", "type": "ordinal", "scale": {"domain": ["sf","so","cf","tf","to"], "range": [64,56,64,60,60]}, "legend": null}}},
   {"data": {"name": "lab"}, "transform": [{"filter": "datum.p == 'D' && datum.it == 0"}], "mark": {"type": "text", "align": "left", "baseline": "alphabetic", "font": "DejaVu Sans", "fontSize": 19, "color": "black"}, "encoding": {"text": {"field": "txt"}}},
   {"data": {"name": "lab"}, "transform": [{"filter": "datum.p == 'D' && datum.it == 1"}], "mark": {"type": "text", "align": "left", "baseline": "alphabetic", "font": "DejaVu Sans", "fontSize": 19, "fontStyle": "italic", "color": "black"}, "encoding": {"text": {"field": "txt"}}}
  ]
 },
 {
  "width": 201, "height": 161,
  "encoding": {
   "x": {"field": "t", "type": "quantitative", "scale": {"domain": [-3, 5.08], "nice": false, "zero": false}, "axis": {"title": "Time (hours)", "titleFont": "DejaVu Sans", "titleFontSize": 18, "titleFontWeight": "normal", "titleColor": "black", "titlePadding": 26, "labelFont": "Liberation Serif", "labelFontSize": 14, "values": [-3,-2.5,-2,-1.5,-1,-0.5,0,0.5,1,1.5,2,2.5,3,3.5,4,4.5,5], "labelExpr": "datum.value % 1 === 0 ? '' + datum.value : ''", "tickSize": {"condition": {"test": "datum.value % 1 !== 0", "value": 3}, "value": 5}}},
   "y": {"field": "v", "type": "quantitative", "scale": {"domain": [0, 60], "nice": false}, "axis": {"title": null, "labelFont": "Liberation Serif", "labelFontSize": 14, "values": [0,5,10,15,20,25,30,35,40,45,50,55,60], "labelExpr": "datum.value % 10 === 0 ? '' + datum.value : ''", "tickSize": {"condition": {"test": "datum.value % 10 !== 0", "value": 2}, "value": 4}}}
  },
  "layer": [
   {"data": {"name": "fit"}, "transform": [{"filter": "datum.p == 'E'"}], "mark": {"type": "line", "color": "black", "strokeWidth": 1, "interpolate": "monotone"}, "encoding": {"detail": {"field": "s"}}},
   {"data": {"name": "pts"}, "transform": [{"filter": "datum.p == 'E'"}], "mark": {"type": "point", "filled": true, "stroke": "black", "strokeWidth": 1, "opacity": 1},
    "encoding": {
     "shape": {"field": "s", "type": "nominal", "scale": {"domain": ["sf","so","cf","tf","to"], "range": ["square","square","circle","triangle-up","triangle-up"]}, "legend": null},
     "fill": {"field": "s", "type": "nominal", "scale": {"domain": ["sf","so","cf","tf","to"], "range": ["black","white","black","black","white"]}, "legend": null},
     "size": {"field": "s", "type": "ordinal", "scale": {"domain": ["sf","so","cf","tf","to"], "range": [64,56,64,60,60]}, "legend": null}}},
   {"data": {"name": "lab"}, "transform": [{"filter": "datum.p == 'E' && datum.it == 0"}], "mark": {"type": "text", "align": "left", "baseline": "alphabetic", "font": "DejaVu Sans", "fontSize": 19, "color": "black"}, "encoding": {"text": {"field": "txt"}}},
   {"data": {"name": "lab"}, "transform": [{"filter": "datum.p == 'E' && datum.it == 1"}], "mark": {"type": "text", "align": "left", "baseline": "alphabetic", "font": "DejaVu Sans", "fontSize": 19, "fontStyle": "italic", "color": "black"}, "encoding": {"text": {"field": "txt"}}}
  ]
 }
],
"columns": 3,
"spacing": {"row": 54, "column": 39},
"bounds": "flush",
"align": "each"
}
